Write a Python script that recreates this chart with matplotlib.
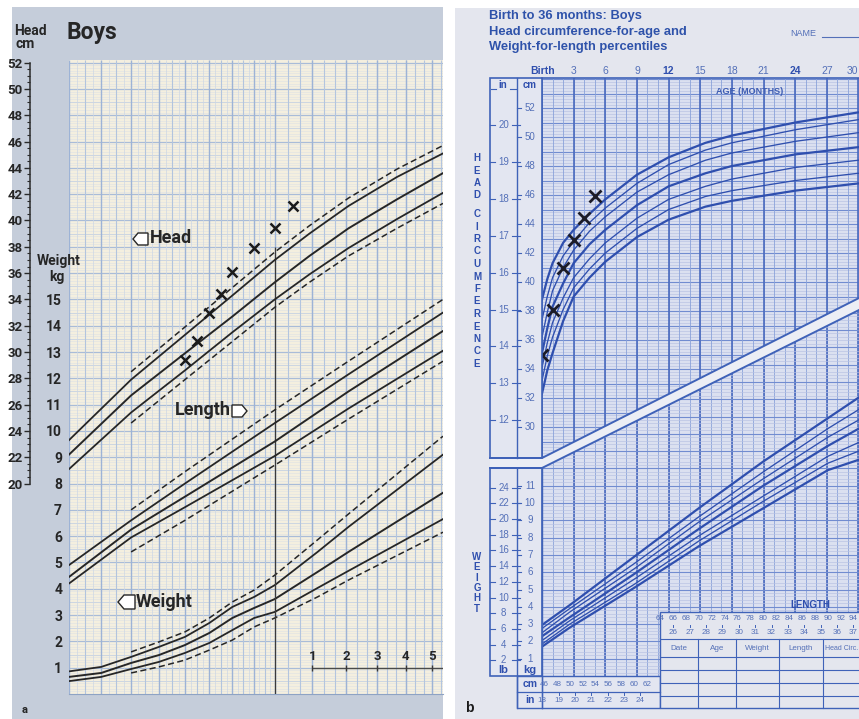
import numpy as np
import matplotlib
matplotlib.use("Agg")
import matplotlib.pyplot as plt
from matplotlib.patches import Polygon, Rectangle
from matplotlib.transforms import blended_transform_factory as btf

W, H = 859, 719
NARROW = ['Liberation Sans Narrow', 'Roboto', 'DejaVu Sans']
SANS = ['Liberation Sans', 'DejaVu Sans']

# ================= DATA: panel a (gestational weeks) =================
lt_xticks = [24, 26, 28, 30, 32, 34, 36, 38, 40, 50, 60]
lt_xlabels = ['24', '26', '28', '30', '32', '34', '36', '38', '40', '10', '20']
head_cm_ticks = list(range(20, 53, 2))
weight_kg_ticks = list(range(1, 16))
month_marks = [1, 2, 3, 4, 5]

wk_solid = [24, 28, 32, 36, 40, 44, 49, 56, 63.6]
wk_dash = [28, 32, 36, 40, 44, 49, 56, 63.6]
head_top_d = [28.5, 31.9, 34.9, 37.6, 39.6, 41.7, 43.9, 45.7]
head_top = [23.3, 27.9, 31.3, 34.3, 37.0, 39.0, 41.1, 43.3, 45.1]
head_mid = [22.2, 26.7, 29.9, 32.7, 35.3, 37.3, 39.4, 41.6, 43.6]
head_low = [21.1, 25.4, 28.6, 31.5, 34.0, 35.9, 37.9, 40.1, 42.1]
head_low_d = [24.6, 27.9, 30.8, 33.4, 35.3, 37.3, 39.4, 41.3]

len_wk_solid = [24, 28, 32, 40, 49, 63.6]
len_wk_dash = [28, 32, 40, 49, 63.6]
len_top_d = [45.0, 47.9, 52.6, 56.3, 61.0]
len_top = [40.8, 44.2, 47.0, 51.6, 55.3, 60.0]
len_mid = [39.9, 43.5, 46.0, 50.2, 54.0, 58.6]
len_low = [39.4, 42.9, 45.2, 49.1, 52.7, 57.1]
len_low_d = [41.8, 44.2, 48.4, 51.9, 56.3]

wt_wk_solid = [24, 26, 28, 30, 32, 34, 36, 38, 40, 45, 49, 63.6]
wt_top = [0.86, 1.03, 1.41, 1.79, 2.17, 2.70, 3.31, 3.69, 4.14, 5.40, 6.35, 9.10]
wt_mid = [0.65, 0.80, 1.18, 1.48, 1.86, 2.32, 2.89, 3.27, 3.61, 4.64, 5.40, 7.65]
wt_low = [0.49, 0.65, 0.95, 1.22, 1.56, 1.94, 2.43, 2.89, 3.12, 4.03, 4.68, 6.65]
wt_wk_dash = [28, 30, 32, 34, 36, 38, 40, 45, 49, 63.6]
wt_top_d = [1.60, 1.98, 2.36, 2.89, 3.50, 3.95, 4.52, 5.86, 6.84, 9.80]
wt_low_d = [0.80, 1.03, 1.29, 1.67, 2.05, 2.55, 2.89, 3.69, 4.33, 6.15]

child_pre_wk = [32, 33, 34, 35, 36, 38, 40, 42]
child_pre_hc = [29.4, 30.8, 33.0, 34.4, 36.1, 37.9, 39.4, 41.1]

# ================= DATA: panel b (birth to 36 months) =================
title_lines = ['Birth to 36 months: Boys', 'Head circumference-for-age and',
               'Weight-for-length percentiles']
age_ticks = [0, 3, 6, 9, 12, 15, 18, 21, 24, 27, 30]
age_labels = ['Birth', '3', '6', '9', '12', '15', '18', '21', '24', '27', '30']
hc_cm_ticks = list(range(30, 53, 2))
hc_in_ticks = list(range(12, 21))
wt_kg_ticks = list(range(1, 12))
wt_lb_ticks = list(range(2, 25, 2))
len_cm_low = list(range(46, 63, 2))
len_in_low = list(range(18, 25))
len_cm_high = list(range(64, 95, 2))
len_in_high = list(range(26, 38))
table_cols = ['Date', 'Age', 'Weight', 'Length', 'Head Circ.']

hc_months = [0, 0.5, 1, 2, 3, 4.5, 6, 9, 12, 15.5, 18, 24, 30]
hc_p1 = [38.8, 40.2, 41.3, 42.7, 43.6, 44.7, 45.7, 47.4, 48.6, 49.6, 50.1, 51.0, 51.7]
hc_p2 = [37.4, 39.0, 40.3, 41.8, 42.8, 44.1, 45.1, 46.8, 48.1, 49.1, 49.6, 50.5, 51.2]
hc_p3 = [36.2, 37.9, 39.4, 41.0, 42.2, 43.5, 44.5, 46.2, 47.4, 48.4, 48.9, 49.7, 50.3]
hc_p4 = [35.1, 36.8, 38.3, 39.9, 41.3, 42.6, 43.6, 45.3, 46.6, 47.5, 48.0, 48.8, 49.3]
hc_p5 = [34.1, 35.8, 37.2, 38.9, 40.3, 41.6, 42.7, 44.4, 45.7, 46.6, 47.1, 47.9, 48.4]
hc_p6 = [33.2, 34.9, 36.2, 38.1, 39.6, 40.9, 42.0, 43.7, 45.0, 45.9, 46.3, 47.0, 47.5]
hc_p7 = [32.3, 33.9, 35.1, 37.3, 39.0, 40.3, 41.4, 43.1, 44.3, 45.2, 45.6, 46.3, 46.8]

wfl_len = [45.7, 50, 60, 70, 80, 90, 94.8]
wfl_p1 = [2.95, 4.1, 6.9, 9.7, 12.4, 14.9, 16.1]
wfl_p2 = [2.75, 3.9, 6.5, 9.2, 11.8, 14.3, 15.4]
wfl_p3 = [2.50, 3.7, 6.2, 8.9, 11.4, 13.8, 14.8]
wfl_p4 = [2.30, 3.4, 5.9, 8.5, 11.0, 13.3, 14.3]
wfl_p5 = [2.05, 3.2, 5.6, 8.1, 10.4, 12.7, 13.5]
wfl_p6 = [1.85, 3.0, 5.3, 7.8, 10.1, 12.3, 13.0]
wfl_p7 = [1.70, 2.8, 5.1, 7.5, 9.7, 11.9, 12.5]

child_age = [0, 1, 2, 3, 4, 5]
child_hc = [35.0, 38.1, 41.0, 42.9, 44.4, 45.9]

# ================= figure helpers =================
fig = plt.figure(figsize=(W / 100, H / 100), dpi=100)
fig.patch.set_facecolor('white')


def pxax(x0, y0, x1, y1, z):
    ax = fig.add_axes([x0 / W, 1 - y1 / H, (x1 - x0) / W, (y1 - y0) / H])
    ax.set_zorder(z)
    return ax


def blank(ax):
    ax.set_xticks([])
    ax.set_yticks([])
    for s in ax.spines.values():
        s.set_visible(False)


bg = pxax(0, 0, W, H, 0)
bg.set_xlim(0, W); bg.set_ylim(H, 0); blank(bg); bg.patch.set_visible(False)
fg = pxax(0, 0, W, H, 5)
fg.set_xlim(0, W); fg.set_ylim(H, 0); blank(fg); fg.patch.set_visible(False)

bg.add_patch(Rectangle((12, 7), 431, 712, color='#c5cdda', lw=0))
bg.add_patch(Rectangle((455, 8), 404, 711, color='#e4e6ee', lw=0))

# ================= panel a =================
INK = '#262626'


def fwd(w):
    w = np.maximum(np.asarray(w, float), 1e-6)
    return np.where(w <= 40, np.log(w), np.log(40) + 0.9 * np.log(w / 40))


def inv(t):
    t = np.asarray(t, float)
    return np.where(t <= np.log(40), np.exp(t),
                    40 * np.exp(np.minimum((t - np.log(40)) / 0.9, 50)))


axL = pxax(69, 60, 443, 694, 1)
axL.set_xscale('function', functions=(fwd, inv))
axL.set_xlim(24, 63.6)
axL.set_ylim(0, 24.1)
axL.set_facecolor('#f4efdf')
XR = (24, 63.6)
axL.hlines(np.arange(0.1, 24.1, 0.1), *XR, color='#dde1e6', lw=0.4)
axL.hlines(np.arange(0.5, 24.1, 1.0), *XR, color='#c8d3e1', lw=0.6)
axL.hlines(np.arange(1, 24.1, 1.0), *XR, color='#a9bcd8', lw=0.9)
axL.vlines(np.arange(24.5, 40, 1.0), 0, 24.1, color='#ccd7e6', lw=0.5)
axL.vlines(np.arange(25, 40, 2), 0, 24.1, color='#b2c4de', lw=0.8)
axL.vlines(np.arange(24, 41, 2), 0, 24.1, color='#9db3d6', lw=1.0)
post = 40 + np.arange(1, 18) * 4.345 / 3
axL.vlines(post, 0, 24.1, color='#b3c5df', lw=0.8)
axL.vlines(40 + np.arange(1, 6) * 4.345, 0, 24.1, color='#9db3d6', lw=1.0)

for s in ['top', 'right', 'left']:
    axL.spines[s].set_visible(False)
axL.spines['bottom'].set_color('#8ea3c4')
axL.set_xticks(lt_xticks)
axL.set_xticklabels(lt_xlabels)
axL.set_yticks(weight_kg_ticks)
axL.set_yticklabels([str(v) for v in weight_kg_ticks])
axL.tick_params(axis='x', direction='in', length=4, width=1, color='#333', pad=2,
                labelsize=11, labelcolor=INK)
axL.tick_params(axis='y', length=0, pad=5, labelsize=10, labelcolor=INK)
for lbl in axL.get_xticklabels() + axL.get_yticklabels():
    lbl.set_fontfamily(NARROW)
    lbl.set_fontweight('bold')

axHd = axL.twinx()
axHd.set_zorder(1.5)
axHd.set_ylim(4, 52.2)
blank(axHd)
axLn = axL.twinx()
axLn.set_zorder(1.6)
axLn.set_ylim(31, 79.2)
blank(axLn)

DASH = (0, (4, 2.2))
axHd.plot(wk_dash, head_top_d, color=INK, lw=1.1, ls=DASH)
axHd.plot(wk_solid, head_top, color=INK, lw=1.3)
axHd.plot(wk_solid, head_mid, color=INK, lw=1.4)
axHd.plot(wk_solid, head_low, color=INK, lw=1.3)
axHd.plot(wk_dash, head_low_d, color=INK, lw=1.1, ls=DASH)

axLn.plot(len_wk_dash, len_top_d, color=INK, lw=1.1, ls=DASH)
axLn.plot(len_wk_solid, len_top, color=INK, lw=1.3)
axLn.plot(len_wk_solid, len_mid, color=INK, lw=1.4)
axLn.plot(len_wk_solid, len_low, color=INK, lw=1.3)
axLn.plot(len_wk_dash, len_low_d, color=INK, lw=1.1, ls=DASH)

axL.plot(wt_wk_dash, wt_top_d, color=INK, lw=1.1, ls=DASH, zorder=3)
axL.plot(wt_wk_solid, wt_top, color=INK, lw=1.3, zorder=3)
axL.plot(wt_wk_solid, wt_mid, color=INK, lw=1.4, zorder=3)
axL.plot(wt_wk_solid, wt_low, color=INK, lw=1.3, zorder=3)
axL.plot(wt_wk_dash, wt_low_d, color=INK, lw=1.1, ls=DASH, zorder=3)

axL.vlines(40, 0, 17.0, color='#3a3a3a', lw=0.9, zorder=3)
axHd.plot(child_pre_wk, child_pre_hc, ls='none', marker='x', ms=7, mew=1.8,
          color='#1b1b1b')

mweeks = 40 + np.array(month_marks) * 4.345
axL.hlines(0.99, mweeks[0], 63.6, color='#4a4a4a', lw=1.0, zorder=3)
axL.vlines(mweeks, 0.86, 1.12, color='#3a3a3a', lw=1.0, zorder=3)
for m, w in zip(month_marks, mweeks):
    axL.text(w, 1.42, str(m), ha='center', va='center', fontsize=9.5,
             fontweight='bold', family=NARROW, color=INK, zorder=3, clip_on=True)

# head cm axis at far left
axHL = pxax(30, 60, 31, 694, 1)
axHL.set_ylim(4, 52.2)
axHL.patch.set_visible(False)
for s in ['top', 'right', 'bottom']:
    axHL.spines[s].set_visible(False)
axHL.spines['left'].set_bounds(20, 52)
axHL.spines['left'].set_color('#2b2b2b')
axHL.spines['left'].set_linewidth(1.1)
axHL.set_xticks([])
axHL.set_yticks(head_cm_ticks)
axHL.set_yticks(np.arange(20, 52.01, 0.5), minor=True)
axHL.set_yticklabels([str(v) for v in head_cm_ticks])
axHL.tick_params(axis='y', which='major', direction='out', length=4, width=1,
                 pad=1.5, labelsize=9.5, color='#2b2b2b', labelcolor=INK)
axHL.tick_params(axis='y', which='minor', direction='out', length=2, width=0.8,
                 color='#2b2b2b')
for lbl in axHL.get_yticklabels():
    lbl.set_fontfamily(NARROW)
    lbl.set_fontweight('bold')

tk = dict(family=NARROW, fontweight='bold', color=INK)
fg.text(14, 31, 'Head', ha='left', va='center', fontsize=10, **tk)
fg.text(16, 44, 'cm', ha='left', va='center', fontsize=10, **tk)
fg.text(67, 33, 'Boys', ha='left', va='center', fontsize=16.5, **tk)
fg.text(59, 261, 'Weight', ha='center', va='center', fontsize=10, **tk)
fg.text(65, 277, 'kg', ha='right', va='center', fontsize=10, **tk)
fg.text(25, 710, 'a', ha='center', va='center', fontsize=8, **tk)

fg.text(150, 238, 'Head', ha='left', va='center', fontsize=13, **tk)
fg.text(231, 410, 'Length', ha='right', va='center', fontsize=13, **tk)
fg.text(136, 602, 'Weight', ha='left', va='center', fontsize=13, **tk)
for verts in ([(133, 239), (138, 233), (148, 233), (148, 245), (138, 245)],
              [(247, 411), (242, 405), (232, 405), (232, 417), (242, 417)],
              [(118, 602), (124, 595), (135, 595), (135, 609), (124, 609)]):
    fg.add_patch(Polygon(verts, closed=True, fc='white', ec=INK, lw=1.0))

# ================= panel b =================
BLUE = '#2f4fae'
FRAME = '#3f62b8'
TXT = '#5470b8'
LIGHT = '#e3e6f1'

axRg = pxax(542, 78, 859, 676, 1)
blank(axRg)
axRg.set_facecolor('#dbe0f0')
axRg.set_xlim(0, 30.05)
axRg.set_ylim(12.83, 54.07)
axRw = pxax(542, 78, 859, 676, 2)
blank(axRw)
axRw.patch.set_visible(False)
axRw.set_xlim(45.69, 94.84)
axRw.set_ylim(0, 34.57)

head_clip = Polygon([(542, 78), (859, 78), (859, 298), (542, 458)], closed=True,
                    transform=fg.transData)
wt_clip = Polygon([(542, 468), (859, 310), (859, 676), (542, 676)], closed=True,
                  transform=fg.transData)

lc = axRg.hlines(np.arange(28, 54.1, 0.2), 0, 30.05, color='#b7c1e3', lw=0.45)
lc.set_clip_path(head_clip)
lc = axRg.hlines(np.arange(28, 54.1, 1.0), 0, 30.05, color='#718cd0', lw=0.8)
lc.set_clip_path(head_clip)
lc = axRw.hlines(np.arange(0.2, 34.6, 0.2), 45.69, 94.84, color='#b7c1e3', lw=0.45)
lc.set_clip_path(wt_clip)
lc = axRw.hlines(np.arange(1, 34.6, 1.0), 45.69, 94.84, color='#718cd0', lw=0.8)
lc.set_clip_path(wt_clip)
axRg.vlines(np.arange(1, 31), 12.83, 54.07, color='#8aa2da', lw=0.6)
axRg.vlines(np.arange(0, 31, 3), 12.83, 54.07, color='#4a6abe', lw=1.2)

hc_all = [hc_p1, hc_p2, hc_p3, hc_p4, hc_p5, hc_p6, hc_p7]
thick = [True, False, False, True, False, False, True]
for vals, tkk in zip(hc_all, thick):
    axRg.plot(hc_months, vals, color=BLUE, lw=1.6 if tkk else 0.95, zorder=3)
axRg.plot(child_age, child_hc, ls='none', marker='x', ms=8, mew=2.0,
          color='#1c1c28', zorder=4)

wfl_all = [wfl_p1, wfl_p2, wfl_p3, wfl_p4, wfl_p5, wfl_p6, wfl_p7]
for vals, tkk in zip(wfl_all, thick):
    axRw.plot(wfl_len, vals, color=BLUE, lw=1.6 if tkk else 0.95, zorder=3)

# band between the two charts and frames
fg.add_patch(Polygon([(490, 458), (542, 458), (859, 298), (859, 310), (542, 468),
                      (490, 468)], closed=True, fc='#eceef5', ec='none'))
fg.plot([490, 542, 859], [458, 458, 298], color=FRAME, lw=1.4)
fg.plot([490, 542, 859], [468, 468, 310], color=FRAME, lw=1.4)
fg.add_patch(Rectangle((490, 78), 52, 380, fc=LIGHT, ec=FRAME, lw=1.2))
fg.plot([517, 517], [78, 458], color=FRAME, lw=1.0)
fg.add_patch(Rectangle((490, 468), 52, 208, fc=LIGHT, ec=FRAME, lw=1.2))
fg.plot([517, 517], [468, 708], color=FRAME, lw=1.0)
fg.plot([542, 859], [78, 78], color=FRAME, lw=1.2)
fg.plot([542, 542], [468, 708], color=FRAME, lw=1.0)
fg.add_patch(Rectangle((517, 676), 143, 32, fc=LIGHT, ec=FRAME, lw=1.0))
fg.plot([517, 660], [692, 692], color=FRAME, lw=0.9)
fg.plot([542, 542], [676, 708], color=FRAME, lw=0.9)

# head columns
tY_hc = btf(fg.transData, axRg.transData)
for c in hc_cm_ticks:
    fg.text(530, c, str(c), ha='center', va='center', fontsize=7, color=TXT,
            family=SANS, transform=tY_hc)
    fg.plot([517, 521], [c, c], color=FRAME, lw=0.8, transform=tY_hc)
for i in hc_in_ticks:
    fg.text(503.5, i * 2.54, str(i), ha='center', va='center', fontsize=7,
            color=TXT, family=SANS, transform=tY_hc)
    fg.plot([490, 495], [i * 2.54] * 2, color=FRAME, lw=0.8, transform=tY_hc)
    fg.plot([512, 520], [i * 2.54] * 2, color=FRAME, lw=0.8, transform=tY_hc)
hd = dict(ha='center', va='center', fontsize=7, color=BLUE, family=SANS,
          fontweight='bold')
fg.text(503, 85, 'in', **hd)
fg.text(530, 85, 'cm', **hd)
fg.plot([491, 496], [89, 89], color=FRAME, lw=0.8)
fg.plot([510, 516], [89, 89], color=FRAME, lw=0.8)

# weight columns
tY_w = btf(fg.transData, axRw.transData)
for k in wt_kg_ticks:
    fg.text(530, k, str(k), ha='center', va='center', fontsize=7, color=TXT,
            family=SANS, transform=tY_w)
    fg.plot([517, 521], [k, k], color=FRAME, lw=0.8, transform=tY_w)
for lb in wt_lb_ticks:
    fg.text(503.5, lb * 0.45359, str(lb), ha='center', va='center', fontsize=7,
            color=TXT, family=SANS, transform=tY_w)
    fg.plot([490, 495], [lb * 0.45359] * 2, color=FRAME, lw=0.8, transform=tY_w)
    fg.plot([512, 520], [lb * 0.45359] * 2, color=FRAME, lw=0.8, transform=tY_w)
fg.text(503, 670, 'lb', ha='center', va='center', fontsize=8, color=BLUE,
        family=SANS, fontweight='bold')
fg.text(530, 670, 'kg', ha='center', va='center', fontsize=8, color=BLUE,
        family=SANS, fontweight='bold')

# length scales
tX_len = btf(axRw.transData, fg.transData)
fg.text(530, 684, 'cm', ha='center', va='center', fontsize=7.5, color=BLUE,
        family=SANS, fontweight='bold')
fg.text(530, 700, 'in', ha='center', va='center', fontsize=7.5, color=BLUE,
        family=SANS, fontweight='bold')
for L in len_cm_low:
    fg.text(L, 684, str(L), ha='center', va='center', fontsize=5.8, color=TXT,
            family=SANS, transform=tX_len)
for i in len_in_low:
    fg.text(i * 2.54, 700, str(i), ha='center', va='center', fontsize=5.8,
            color=TXT, family=SANS, transform=tX_len)
    fg.plot([i * 2.54] * 2, [692, 695], color=FRAME, lw=0.7, transform=tX_len)

# record table
fg.add_patch(Rectangle((660, 612), 205, 96, fc='#e4e6ee', ec=FRAME, lw=1.0))
fg.text(810, 605, 'LENGTH', ha='center', va='center', fontsize=7, color=BLUE,
        family=SANS, fontweight='bold')
for L in len_cm_high:
    fg.text(L, 619, str(L), ha='center', va='center', fontsize=5.8, color=TXT,
            family=SANS, transform=tX_len)
for i in len_in_high:
    fg.text(i * 2.54, 632, str(i), ha='center', va='center', fontsize=5.8,
            color=TXT, family=SANS, transform=tX_len)
    fg.plot([i * 2.54] * 2, [625, 627], color=FRAME, lw=0.7, transform=tX_len)
for yy in [639, 657, 670, 683, 696]:
    fg.plot([660, 859], [yy, yy], color=FRAME, lw=0.8)
col_x = [660, 698, 736, 779, 823, 870]
for xx in col_x[1:-1]:
    fg.plot([xx, xx], [639, 708], color=FRAME, lw=0.8)
for name, a, b in zip(table_cols[:-1], col_x[:-2], col_x[1:-1]):
    fg.text((a + b) / 2, 648, name, ha='center', va='center', fontsize=5.8,
            color=TXT, family=SANS)
fg.text(825, 648, table_cols[-1], ha='left', va='center', fontsize=5.0,
        color=TXT, family=SANS)

# axis letters
let = dict(ha='center', va='center', fontsize=7, color=BLUE, family=SANS,
           fontweight='bold')
for k, ch in enumerate('HEAD'):
    fg.text(477, 158 + 12.5 * k, ch, **let)
for k, ch in enumerate('CIRCUMFERENCE'):
    fg.text(477, 214 + 12.5 * k, ch, **let)
for k, ch in enumerate('WEIGHT'):
    fg.text(477, 557 + 10.3 * k, ch, **let)

# titles and age labels
for k, t in enumerate(title_lines):
    fg.text(489, 16 + 15.5 * k, t, ha='left', va='center', fontsize=9.3,
            color='#2e52aa', family=SANS, fontweight='bold')
fg.text(790, 33, 'NAME', ha='left', va='center', fontsize=6.5, color=TXT,
        family=SANS)
fg.plot([822, 859], [37, 37], color=TXT, lw=0.8)
tX_age = btf(axRg.transData, fg.transData)
for m, lab in zip(age_ticks, age_labels):
    strong = lab in ('Birth', '12', '24')
    last = m == age_ticks[-1]
    fg.text(m + (0.1 if m == 0 else 0), 71, lab,
            ha='right' if last else 'center', va='center',
            fontsize=7.5, color=BLUE if strong else TXT, family=SANS,
            fontweight='bold' if strong else 'normal', transform=tX_age)
fg.text(750, 91, 'AGE (MONTHS)', ha='center', va='center', fontsize=6.5,
        color='#3d5cb3', family=SANS, fontweight='bold')
fg.text(469, 708, 'b', ha='center', va='center', fontsize=10, color='#1a1a1a',
        family=SANS, fontweight='bold')

fig.savefig('out.png', dpi=100)
